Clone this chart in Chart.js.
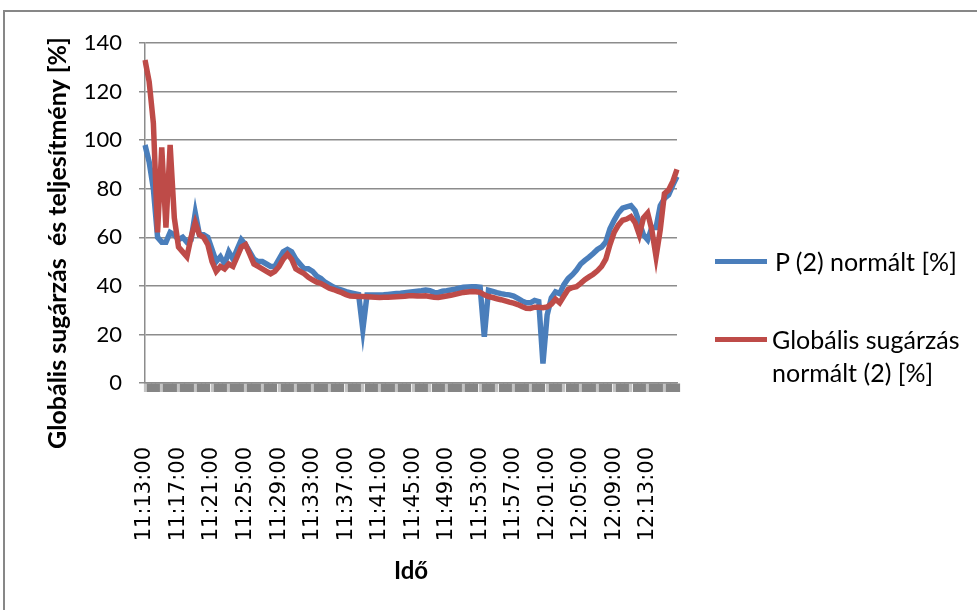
<!DOCTYPE html>
<html>
<head>
<meta charset="utf-8">
<script src="https://cdn.jsdelivr.net/npm/chart.js@4.4.0/dist/chart.umd.min.js"></script>
<style>
  body { margin: 0; background: #fff; }
  #wrap { position: relative; width: 977px; height: 610px; overflow: hidden; }
  .legend-item { position: absolute; font-family: Lato, sans-serif; font-size: 25px; color: #000; line-height: 33px; }
  .legend-line { position: absolute; width: 52px; height: 5px; }
</style>
</head>
<body>
<div id="wrap">
  <canvas id="chart" width="977" height="610"></canvas>
  <div class="legend-line" style="left:715px; top:259px; background:#4A7EBB;"></div>
  <div class="legend-item" style="left:775px; top:245px;">P (2) normált [%]</div>
  <div class="legend-line" style="left:715px; top:337px; background:#BE4B48;"></div>
  <div class="legend-item" style="left:772px; top:323px;">Globális sugárzás<br>normált (2) [%]</div>
</div>
<script>
// measurement every 30 s from 11:13:00
const startSec = 11 * 3600 + 13 * 60;
const stepSec = 30;

const powerNorm = [
  98, 91, 80, 60, 58, 58, 62, 61, 59, 60,
  58, 59, 70, 61, 61, 60, 55, 50, 52, 49,
  54, 51, 55, 59, 57, 54, 51, 50, 50, 49,
  48, 48, 51, 54, 55, 54, 51, 49, 47, 47,
  46, 44, 43, 41.5, 40.5, 39.5, 38.7, 38.2, 37.6, 37.2,
  36.8, 36.4, 22, 36.2, 36.2, 36.2, 36.2, 36.3, 36.5, 36.7,
  36.9, 37, 37.2, 37.4, 37.6, 37.8, 38, 38.3, 38, 37.3,
  37.2, 37.8, 38, 38.3, 38.6, 39, 39.4, 39.5, 39.6, 39.6,
  39.4, 19, 38.2, 37.7, 37.2, 36.8, 36.5, 36.3, 35.8, 34.8,
  33.8, 33, 33, 34, 33.5, 8, 28, 35, 37.5, 36.8,
  40.5, 43, 44.5, 46.5, 49, 50.5, 51.8, 53.3, 55, 56,
  58, 63.5, 67, 70, 72, 72.5, 73, 71, 66, 61,
  59, 64, 64, 73, 76, 77.5, 81.5, 85
];

const radiationNorm = [
  133, 124, 107, 62, 97, 64, 98, 68, 56, 54,
  52, 60, 66, 61, 60, 57, 50, 46, 48, 47,
  49, 48, 52, 56, 57, 53, 49, 48, 47, 46,
  45, 46, 48, 51, 53, 51, 47, 46, 45, 43.5,
  42.5, 41.5, 41, 40, 39, 38.5, 37.8, 37.2, 36.4, 35.8,
  35.7, 35.6, 35.6, 35.5, 35.4, 35.3, 35.2, 35.3, 35.3, 35.4,
  35.5, 35.6, 35.7, 35.9, 35.9, 35.8, 35.8, 35.9, 35.6, 35.3,
  35.2, 35.5, 35.8, 36.1, 36.5, 36.9, 37.3, 37.5, 37.7, 37.6,
  37.3, 36.3, 35.6, 35.2, 34.7, 34.3, 33.8, 33.3, 32.9, 32.3,
  31.5, 30.8, 30.7, 31.2, 31.2, 31, 31.3, 32.5, 34.5, 33,
  35.8, 38.5, 39.3, 39.7, 41, 42.5, 43.7, 44.8, 46.2, 48,
  51, 57, 62, 65, 67, 67.5, 68.5, 66, 61, 68,
  70, 63, 52, 63, 78, 79.5, 83, 88
];

const yTitle = 'Globális sugárzás  és teljesítmény [%]';
const xTitle = 'Idő';

const pad = n => String(n).padStart(2, '0');
const times = powerNorm.map((_, i) => {
  const s = startSec + i * stepSec;
  return pad(Math.floor(s / 3600)) + ':' + pad(Math.floor(s / 60) % 60) + ':' + pad(s % 60);
});

const gridGray = '#8c8c8c';

// outer frame and the vertical axis title
const framePlugin = {
  id: 'frame',
  beforeDraw(chart) {
    const ctx = chart.ctx;
    ctx.save();
    ctx.strokeStyle = '#878787';
    ctx.lineWidth = 2;
    ctx.strokeRect(4, 11, 1100, 800);
    ctx.restore();
  },
  afterDraw(chart) {
    const ctx = chart.ctx;
    ctx.save();
    ctx.translate(58, 243);
    ctx.rotate(-Math.PI / 2);
    ctx.font = 'bold 25px Lato';
    ctx.fillStyle = '#000';
    ctx.textAlign = 'center';
    ctx.textBaseline = 'middle';
    ctx.fillText(yTitle, 0, 0);
    ctx.restore();
  }
};

new Chart(document.getElementById('chart'), {
  type: 'line',
  data: {
    labels: times,
    datasets: [
      {
        label: 'P (2) normált [%]',
        data: powerNorm,
        borderColor: '#4A7EBB',
        borderWidth: 5.5,
        pointRadius: 0,
        tension: 0,
        order: 1
      },
      {
        label: 'Globális sugárzás normált (2) [%]',
        data: radiationNorm,
        borderColor: '#BE4B48',
        borderWidth: 5.5,
        pointRadius: 0,
        tension: 0,
        order: 0
      }
    ]
  },
  options: {
    responsive: false,
    animation: false,
    layout: { padding: { top: 43, right: 300, bottom: 0, left: 0 } },
    plugins: {
      legend: { display: false },
      tooltip: { enabled: false }
    },
    scales: {
      x: {
        offset: false,
        afterFit: s => { s.height = 227; },
        grid: {
          drawOnChartArea: false,
          tickLength: 9,
          tickWidth: c => (c.index % 4 === 0 ? 3.2 : 5.2),
          tickColor: c => (c.index % 4 === 0 ? '#c4c4c4' : '#858585')
        },
        border: { color: gridGray, width: 1.5 },
        ticks: {
          autoSkip: false,
          maxRotation: 90,
          minRotation: 90,
          padding: 55,
          color: '#000',
          font: { family: 'DejaVu Sans', size: 21 },
          callback(value, index) {
            return index % 8 === 0 ? this.getLabelForValue(value) : '';
          }
        },
        title: {
          display: true,
          text: xTitle,
          color: '#000',
          font: { family: 'Lato', size: 24, weight: 'bold' },
          padding: { top: 0, bottom: 24 }
        }
      },
      y: {
        min: 0,
        max: 140,
        afterFit: s => { s.width = 145; },
        grid: { color: gridGray, lineWidth: 1.5, tickLength: 6 },
        border: { color: gridGray, width: 1.5 },
        ticks: {
          stepSize: 20,
          padding: 17,
          color: '#000',
          font: { family: 'Lato', size: 22 }
        }
      }
    }
  },
  plugins: [framePlugin]
});
</script>
</body>
</html>
